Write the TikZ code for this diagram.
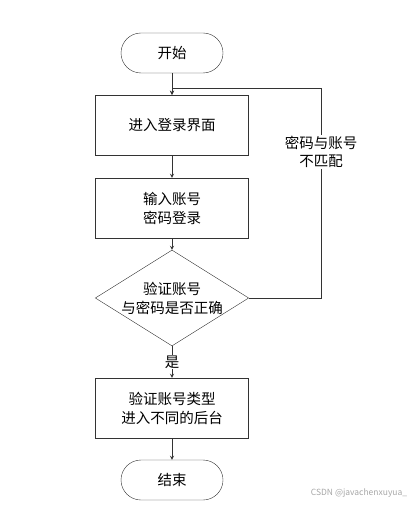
\documentclass[tikz,border=0pt]{standalone}
\usepackage{fontspec}
\setmainfont{Noto Sans CJK SC}
\usetikzlibrary{shapes.geometric}

\begin{document}
\begin{tikzpicture}[x=1pt,y=-1pt,>=stealth]
  \tikzstyle{term}=[draw=black!80,rounded corners=20pt,minimum width=102pt,minimum height=40pt,font=\fontsize{14.5}{19}\selectfont]
  \tikzstyle{proc}=[draw=black!80,minimum width=153pt,minimum height=60pt,align=center,font=\fontsize{14.5}{19}\selectfont]
  \tikzstyle{dec}=[draw=black!80,diamond,aspect=1.6,inner sep=0pt,minimum width=152pt,minimum height=95pt,align=center,font=\fontsize{14.5}{19}\selectfont]
  \tikzstyle{lbl}=[fill=white,align=center,inner sep=1pt,font=\fontsize{14.5}{18}\selectfont]
  \tikzstyle{conn}=[draw=black!80,line width=0.8pt]
  \useasboundingbox (0,0) rectangle (414,505);

  \node[term] (start) at (172,53) {开始};
  \node[proc] (login) at (172,125) {进入登录界面};
  \node[proc] (input) at (172,208) {输入账号\\密码登录};
  \node[dec] (check) at (172,298) {验证账号\\与密码是否正确};
  \node[proc] (route) at (172,408) {验证账号类型\\进入不同的后台};
  \node[term] (end) at (172,480) {结束};

  \draw[conn,->] (start) -- (login);
  \draw[conn,->] (login) -- (input);
  \draw[conn,->] (input) -- (check);
  \draw[conn,->] (check) -- node[lbl] (yes) {是} (route);
  \draw[conn,->] (route) -- (end);

  % back to the login page
  \coordinate (back) at (321,88);
  \draw[conn,->] (check.east) -| (back) -- (login.north |- back) -- (login.north);
  \node[lbl] (nomatch) at (321,152) {密码与账号\\不匹配};

  \node[text=black!35,font=\fontsize{8.5}{10}\selectfont] (mark) at (359,493) {CSDN @javachenxuyua\_};
\end{tikzpicture}
\end{document}
